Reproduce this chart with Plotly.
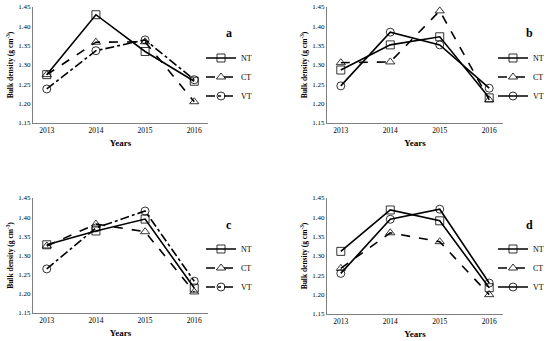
import plotly.graph_objects as go

years = ["2013", "2014", "2015", "2016"]
series_names = ["NT", "CT", "VT"]

a_NT = [1.275, 1.430, 1.335, 1.258]
a_CT = [1.275, 1.359, 1.360, 1.205]
a_VT = [1.238, 1.337, 1.365, 1.262]

b_NT = [1.287, 1.352, 1.373, 1.215]
b_CT = [1.306, 1.308, 1.440, 1.210]
b_VT = [1.246, 1.385, 1.352, 1.240]

c_NT = [1.328, 1.364, 1.395, 1.215]
c_CT = [1.325, 1.382, 1.362, 1.205]
c_VT = [1.265, 1.372, 1.416, 1.233]

d_NT = [1.312, 1.419, 1.391, 1.218]
d_CT = [1.268, 1.360, 1.337, 1.200]
d_VT = [1.255, 1.395, 1.421, 1.230]

yticks = [1.15, 1.20, 1.25, 1.30, 1.35, 1.40, 1.45]
panel_labels = ["a", "b", "c", "d"]

panels = [
    (a_NT, a_CT, a_VT, ["solid", "dash", "dashdot"]),
    (b_NT, b_CT, b_VT, ["solid", "dash", "solid"]),
    (c_NT, c_CT, c_VT, ["solid", "dash", "dashdot"]),
    (d_NT, d_CT, d_VT, ["solid", "dash", "solid"]),
]

W, H = 550, 341
FONT = "Liberation Serif"
# pixel layout: (x0, x1, ytop, ybottom)
boxes = [(33, 208, 7, 123), (327, 503, 7, 123), (33, 208, 198, 313), (327, 503, 198, 314)]
legend_pos = [(201, 77), (493, 77), (201, 268), (493, 268)]
label_pos = [(229, 33), (529, 33), (229, 225), (529, 225)]
symbols = ["square-open", "triangle-up-open", "circle-open"]

fig = go.Figure()
layout = dict(
    width=W, height=H, margin=dict(l=0, r=0, t=0, b=0, autoexpand=False),
    paper_bgcolor="white", plot_bgcolor="white",
    font=dict(family=FONT, color="black", size=7),
    showlegend=True,
)
annotations = []
for i, (NT, CT, VT, dashes) in enumerate(panels):
    x0, x1, yt, yb = boxes[i]
    xa = "xaxis" if i == 0 else f"xaxis{i+1}"
    ya = "yaxis" if i == 0 else f"yaxis{i+1}"
    xr = "x" if i == 0 else f"x{i+1}"
    yr = "y" if i == 0 else f"y{i+1}"
    lg = "legend" if i == 0 else f"legend{i+1}"
    layout[xa] = dict(
        domain=[x0 / W, x1 / W], anchor=yr, type="category",
        showline=True, linecolor="#7f7f7f", linewidth=1, showgrid=False,
        ticks="", tickfont=dict(size=7.5, family=FONT, color="black"),
        title=dict(text="<b>Years</b>", font=dict(size=9, family=FONT, color="black"), standoff=5),
        zeroline=False, fixedrange=True, automargin=False,
    )
    layout[ya] = dict(
        domain=[1 - yb / H, 1 - yt / H], anchor=xr, range=[1.15, 1.45],
        tickvals=yticks, ticktext=[f"{v:.2f}" for v in yticks],
        showline=True, linecolor="#7f7f7f", linewidth=1, showgrid=False,
        ticks="", tickfont=dict(size=7, family=FONT, color="black"),
        title=dict(text="<b>Bulk density (g cm<sup>-3</sup>)</b>", font=dict(size=7.5, family=FONT, color="black"), standoff=3),
        zeroline=False, fixedrange=True, automargin=False,
    )
    lx, lyc = legend_pos[i]
    layout[lg] = dict(
        x=lx / W, y=1 - lyc / H, xanchor="left", yanchor="middle",
        font=dict(size=8, family=FONT, color="black"), bgcolor="rgba(0,0,0,0)",
        itemwidth=30, tracegroupgap=0,
    )
    for j, (vals, nm) in enumerate(zip([NT, CT, VT], series_names)):
        fig.add_trace(go.Scatter(
            x=years, y=vals, name=nm, mode="lines+markers",
            xaxis=xr, yaxis=yr, legend=lg,
            line=dict(color="black", width=1.6, dash=dashes[j]),
            marker=dict(symbol=symbols[j], size=8, color="black", line=dict(width=0.8, color="#333")),
            cliponaxis=False,
        ))
    px_, py_ = label_pos[i]
    annotations.append(dict(
        text=f"<b>{panel_labels[i]}</b>", x=px_ / W, y=1 - py_ / H,
        xref="paper", yref="paper", xanchor="center", yanchor="middle", showarrow=False,
        font=dict(size=12, family=FONT, color="black"),
    ))
layout["annotations"] = annotations
fig.update_layout(**layout)
fig.write_html(
    "out.html",
    config={"displayModeBar": False, "staticPlot": True},
    post_script="document.body.style.margin='0';document.body.style.overflow='hidden';",
)
